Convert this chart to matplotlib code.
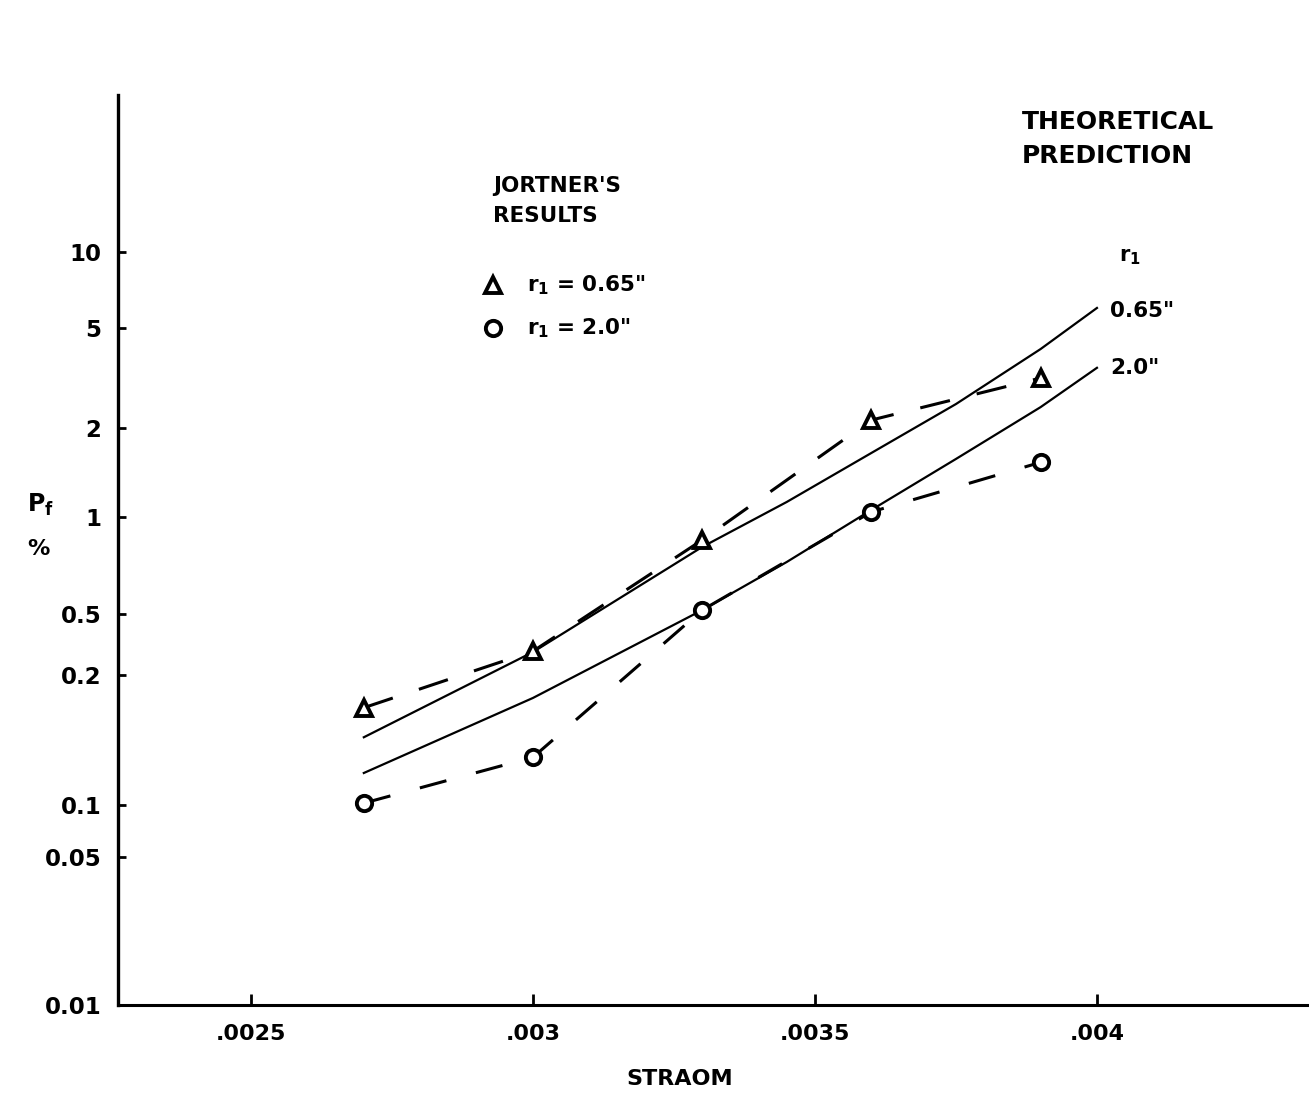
import numpy as np
import matplotlib
matplotlib.use("Agg")
import matplotlib.pyplot as plt
from matplotlib.ticker import NullLocator

plt.rcParams["font.family"] = "DejaVu Sans"
plt.rcParams["font.weight"] = "bold"
plt.rcParams["mathtext.default"] = "bf"

# Jortner's results (experimental points)
strain = [0.0027, 0.0030, 0.0033, 0.0036, 0.0039]
pf_065 = [0.168, 0.286, 0.848, 2.15, 3.16]
pf_20 = [0.101, 0.129, 0.514, 1.04, 1.53]

# Theoretical prediction curves
strain_theory = [0.0027, 0.0030, 0.0033, 0.00345, 0.0036, 0.00375, 0.0039, 0.0040]
theory_065 = [0.1435, 0.2825, 0.807, 1.124, 1.646, 2.49, 4.12, 6.0]
theory_20 = [0.1186, 0.177, 0.514, 0.725, 1.056, 1.571, 2.42, 3.47]

# Hand drawn probability axis: labelled values and their height on the axis
y_ticks = [0.01, 0.05, 0.1, 0.2, 0.5, 1, 2, 5, 10]
y_tick_labels = ["0.01", "0.05", "0.1", "0.2", "0.5", "1", "2", "5", "10"]
y_heights = [0.0, 0.1626, 0.2198, 0.3626, 0.4297, 0.5363, 0.6341, 0.7440, 0.8275]

x_ticks = [0.0025, 0.0030, 0.0035, 0.0040]
x_tick_labels = [".0025", ".003", ".0035", ".004"]

# extend the table a little past both ends so the scale keeps going
scale_logs = np.array([-3.0] + list(np.log10(y_ticks)) + [2.0])
scale_h = np.array([-0.3] + y_heights + [y_heights[-1] + (y_heights[-1] - y_heights[-2]) / np.log10(2)])


def forward(v):
    v = np.clip(np.asarray(v, dtype=float), 1e-6, None)
    return np.interp(np.log10(v), scale_logs, scale_h)


def inverse(h):
    return 10 ** np.interp(np.asarray(h, dtype=float), scale_h, scale_logs)


fig = plt.figure(figsize=(13.09, 10.98), dpi=100)
ax = fig.add_axes([0.0901, 0.0847, 0.9099, 0.8288])
ax.set_yscale("function", functions=(forward, inverse))

# theory (solid)
ax.plot(strain_theory, theory_065, color="black", lw=1.6)
ax.plot(strain_theory, theory_20, color="black", lw=1.6)

# Jortner's results (dashed with markers)
ax.plot(strain, pf_065, color="black", lw=2.2, linestyle=(0, (10, 9)),
        marker="^", markersize=11, markeredgewidth=2.8,
        markerfacecolor="white", markeredgecolor="black")
ax.plot(strain, pf_20, color="black", lw=2.2, linestyle=(0, (9, 10)),
        marker="o", markersize=11, markeredgewidth=2.8,
        markerfacecolor="white", markeredgecolor="black")

ax.set_xlim(0.002264, 0.004376)
ax.set_ylim(0.01, float(inverse(1.0)))

ax.set_yticks(y_ticks)
ax.set_yticklabels(y_tick_labels)
ax.yaxis.set_minor_locator(NullLocator())
ax.set_xticks(x_ticks)
ax.set_xticklabels(x_tick_labels)

ax.tick_params(axis="y", direction="in", length=6, width=2, pad=12, labelsize=16.5)
ax.tick_params(axis="x", direction="in", length=8, width=2, pad=14, labelsize=16)

for s in ["top", "right"]:
    ax.spines[s].set_visible(False)
ax.spines["left"].set_linewidth(2.4)
ax.spines["bottom"].set_linewidth(2.2)

ax.set_xlabel("STRAOM", fontsize=16, fontweight="bold")
ax.xaxis.set_label_coords((680 - 118) / 1191, -0.07)

fig.text(0.021, 0.54, "P$_f$", fontsize=17, fontweight="bold", ha="left", va="center")
fig.text(0.021, 0.50, "%", fontsize=16, fontweight="bold", ha="left", va="center")

# annotations
fig.text(493 / 1309, 1 - 201 / 1098, "JORTNER'S\nRESULTS", fontsize=15.5,
         fontweight="bold", ha="left", va="center", linespacing=1.65)
fig.text(1022 / 1309, 1 - 139 / 1098, "THEORETICAL\nPREDICTION", fontsize=18,
         fontweight="bold", ha="left", va="center", linespacing=1.5)
fig.text(1119 / 1309, 1 - 257 / 1098, "r$_1$", fontsize=15, fontweight="bold",
         ha="left", va="center")
fig.text(1110 / 1309, 1 - 311 / 1098, '0.65"', fontsize=15.5, fontweight="bold",
         ha="left", va="center")
fig.text(1110 / 1309, 1 - 368 / 1098, '2.0"', fontsize=15.5, fontweight="bold",
         ha="left", va="center")

# legend for the experimental points
fig.text(527 / 1309, 1 - 285 / 1098, 'r$_1$ = 0.65"', fontsize=15.5,
         fontweight="bold", ha="left", va="center")
fig.text(527 / 1309, 1 - 328 / 1098, 'r$_1$ = 2.0"', fontsize=15.5,
         fontweight="bold", ha="left", va="center")
fig.lines.append(plt.Line2D([493 / 1309], [1 - 285 / 1098], transform=fig.transFigure,
                            marker="^", markersize=11, markeredgewidth=2.8,
                            markerfacecolor="white", markeredgecolor="black"))
fig.lines.append(plt.Line2D([493 / 1309], [1 - 328 / 1098], transform=fig.transFigure,
                            marker="o", markersize=11, markeredgewidth=2.8,
                            markerfacecolor="white", markeredgecolor="black"))

fig.savefig("out.png", dpi=100, facecolor="white")
